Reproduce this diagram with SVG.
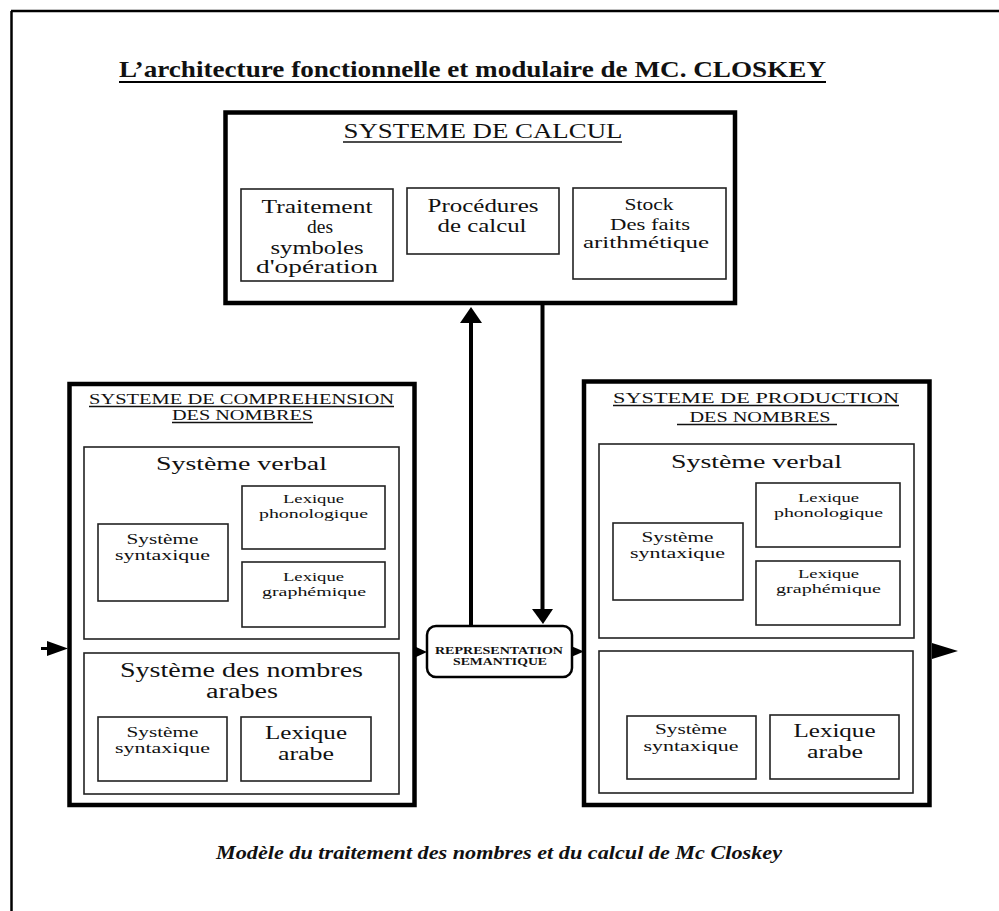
<svg xmlns="http://www.w3.org/2000/svg" width="999" height="911" viewBox="0 0 999 911">
<style>
  text { font-family: "Liberation Serif", "Times New Roman", serif; fill: #111; text-anchor: middle; }
  .big { fill: #fff; stroke: #000; stroke-width: 4.5; }
  .box { fill: none; stroke: #222; stroke-width: 1.6; }
  .ul { stroke: #111; stroke-width: 1.4; }
  .conn { stroke: #000; stroke-width: 4; fill: none; }
  .head { fill: #000; }
  .t20 { font-size: 20px; }
  .t18 { font-size: 18px; }
  .t16 { font-size: 16px; }
  .t15 { font-size: 15px; }
  .t13 { font-size: 13px; }
</style>
<rect x="0" y="0" width="999" height="911" fill="#fff"/>
<g id="frame">
  <line x1="11" y1="11" x2="999" y2="11" stroke="#000" stroke-width="2.5"/>
  <line x1="11.5" y1="11" x2="11.5" y2="911" stroke="#000" stroke-width="2.5"/>
</g>
<g id="title">
  <text x="472.5" y="77" font-size="23" font-weight="bold" textLength="707" lengthAdjust="spacingAndGlyphs">L’architecture fonctionnelle et modulaire de MC. CLOSKEY</text>
  <line x1="119" y1="82" x2="826" y2="82" stroke="#000" stroke-width="2"/>
</g>

<g id="connectors">
  <line class="conn" x1="471" y1="625" x2="471" y2="320"/>
  <polygon class="head" points="471,307 482,323 460,323"/>
  <line class="conn" x1="542.5" y1="305" x2="542.5" y2="612"/>
  <polygon class="head" points="532,609 553,609 543,624"/>
  <line x1="41" y1="648.5" x2="50" y2="648.5" stroke="#000" stroke-width="3"/>
  <polygon class="head" points="47,641 68,648.5 47,656"/>
  <polygon class="head" points="415,646.5 427,652 415,657.5"/>
  <polygon class="head" points="571,646 584,651.5 571,657"/>
  <polygon class="head" points="932,643 958,651 932,659"/>
</g>

<g id="calcul">
  <rect class="big" x="225.5" y="112.5" width="509.5" height="190.5"/>
  <text class="t20" x="483" y="138" textLength="279" lengthAdjust="spacingAndGlyphs">SYSTEME DE CALCUL</text>
  <line class="ul" x1="343" y1="142" x2="622" y2="142"/>
  <g id="traitement">
    <rect class="box" x="241" y="189" width="152" height="92"/>
    <text class="t18" x="317" y="213" textLength="111" lengthAdjust="spacingAndGlyphs">Traitement</text>
    <text class="t18" x="320" y="233" textLength="26" lengthAdjust="spacingAndGlyphs">des</text>
    <text class="t18" x="317" y="254" textLength="93" lengthAdjust="spacingAndGlyphs">symboles</text>
    <text class="t18" x="317" y="273" textLength="122" lengthAdjust="spacingAndGlyphs">d'opération</text>
  </g>
  <g id="procedures">
    <rect class="box" x="407" y="188" width="152" height="66"/>
    <text class="t18" x="483" y="212" textLength="111" lengthAdjust="spacingAndGlyphs">Procédures</text>
    <text class="t18" x="482" y="232" textLength="89" lengthAdjust="spacingAndGlyphs">de calcul</text>
  </g>
  <g id="stock">
    <rect class="box" x="573" y="188" width="153" height="91"/>
    <text class="t16" x="649" y="210" textLength="49" lengthAdjust="spacingAndGlyphs">Stock</text>
    <text class="t16" x="650" y="230" textLength="80" lengthAdjust="spacingAndGlyphs">Des faits</text>
    <text class="t16" x="646" y="248" textLength="126" lengthAdjust="spacingAndGlyphs">arithmétique</text>
  </g>
</g>

<g id="comprehension">
  <rect class="big" x="69.5" y="384" width="345" height="421"/>
  <text class="t15" x="241.5" y="404" textLength="305" lengthAdjust="spacingAndGlyphs">SYSTEME DE COMPREHENSION</text>
  <line class="ul" x1="89" y1="406.5" x2="394" y2="406.5"/>
  <text class="t15" x="242.5" y="420" textLength="141" lengthAdjust="spacingAndGlyphs">DES NOMBRES</text>
  <line class="ul" x1="172" y1="422.5" x2="313" y2="422.5"/>
  <g id="comp-verbal">
    <rect class="box" x="84" y="447" width="315" height="192"/>
    <text class="t18" x="241.5" y="470" textLength="171" lengthAdjust="spacingAndGlyphs">Système verbal</text>
    <rect class="box" x="242" y="486" width="143" height="63"/>
    <text class="t13" x="313.5" y="503" textLength="61" lengthAdjust="spacingAndGlyphs">Lexique</text>
    <text class="t13" x="313.5" y="518" textLength="109" lengthAdjust="spacingAndGlyphs">phonologique</text>
    <rect class="box" x="242" y="562" width="143" height="65"/>
    <text class="t13" x="313.5" y="581" textLength="61" lengthAdjust="spacingAndGlyphs">Lexique</text>
    <text class="t13" x="314" y="596" textLength="104" lengthAdjust="spacingAndGlyphs">graphémique</text>
    <rect class="box" x="98" y="524" width="130" height="77"/>
    <text class="t15" x="162.5" y="544" textLength="72" lengthAdjust="spacingAndGlyphs">Système</text>
    <text class="t15" x="162.5" y="560" textLength="95" lengthAdjust="spacingAndGlyphs">syntaxique</text>
  </g>
  <g id="comp-arabe">
    <rect class="box" x="84" y="653" width="315" height="141"/>
    <text class="t20" x="241.5" y="677" textLength="243" lengthAdjust="spacingAndGlyphs">Système des nombres</text>
    <text class="t20" x="242" y="698" textLength="72" lengthAdjust="spacingAndGlyphs">arabes</text>
    <rect class="box" x="98" y="717" width="129" height="64"/>
    <text class="t15" x="162.5" y="737" textLength="72" lengthAdjust="spacingAndGlyphs">Système</text>
    <text class="t15" x="162.5" y="753" textLength="95" lengthAdjust="spacingAndGlyphs">syntaxique</text>
    <rect class="box" x="241" y="717" width="130" height="64"/>
    <text class="t18" x="306" y="739" textLength="82" lengthAdjust="spacingAndGlyphs">Lexique</text>
    <text class="t18" x="306" y="760" textLength="56" lengthAdjust="spacingAndGlyphs">arabe</text>
  </g>
</g>

<g id="representation">
  <rect x="427" y="626" width="145" height="51" rx="9" ry="9" fill="#fff" stroke="#000" stroke-width="2.5"/>
  <text x="499" y="654" font-size="11" font-weight="bold" textLength="128" lengthAdjust="spacingAndGlyphs">REPRESENTATION</text>
  <text x="500" y="665" font-size="11" font-weight="bold" textLength="94" lengthAdjust="spacingAndGlyphs">SEMANTIQUE</text>
</g>

<g id="production">
  <rect class="big" x="584" y="381.5" width="345.5" height="423.5"/>
  <text class="t15" x="756" y="403" textLength="286" lengthAdjust="spacingAndGlyphs">SYSTEME DE PRODUCTION</text>
  <line class="ul" x1="613" y1="405.5" x2="899" y2="405.5"/>
  <text class="t15" x="760" y="422" textLength="141" lengthAdjust="spacingAndGlyphs">DES NOMBRES</text>
  <line class="ul" x1="677" y1="424.5" x2="837" y2="424.5"/>
  <g id="prod-verbal">
    <rect class="box" x="599" y="444" width="315" height="194"/>
    <text class="t18" x="756.5" y="468" textLength="171" lengthAdjust="spacingAndGlyphs">Système verbal</text>
    <rect class="box" x="756" y="483" width="144" height="64"/>
    <text class="t13" x="828.5" y="502" textLength="61" lengthAdjust="spacingAndGlyphs">Lexique</text>
    <text class="t13" x="828.5" y="517" textLength="109" lengthAdjust="spacingAndGlyphs">phonologique</text>
    <rect class="box" x="756" y="561" width="144" height="64"/>
    <text class="t13" x="828.5" y="578" textLength="61" lengthAdjust="spacingAndGlyphs">Lexique</text>
    <text class="t13" x="828.5" y="593" textLength="105" lengthAdjust="spacingAndGlyphs">graphémique</text>
    <rect class="box" x="613" y="523" width="130" height="77"/>
    <text class="t15" x="677.5" y="542" textLength="72" lengthAdjust="spacingAndGlyphs">Système</text>
    <text class="t15" x="677.5" y="558" textLength="95" lengthAdjust="spacingAndGlyphs">syntaxique</text>
  </g>
  <g id="prod-arabe">
    <rect class="box" x="599" y="651" width="314" height="142"/>
    <rect class="box" x="627" y="716" width="129" height="63"/>
    <text class="t15" x="691" y="734" textLength="72" lengthAdjust="spacingAndGlyphs">Système</text>
    <text class="t15" x="691" y="751" textLength="95" lengthAdjust="spacingAndGlyphs">syntaxique</text>
    <rect class="box" x="770" y="715" width="129" height="64"/>
    <text class="t18" x="834.5" y="737" textLength="82" lengthAdjust="spacingAndGlyphs">Lexique</text>
    <text class="t18" x="835" y="758" textLength="56" lengthAdjust="spacingAndGlyphs">arabe</text>
  </g>
</g>

<g id="caption">
  <text x="499" y="859" font-size="18" font-weight="bold" font-style="italic" textLength="566" lengthAdjust="spacingAndGlyphs">Modèle du traitement des nombres et du calcul de Mc Closkey</text>
</g>
</svg>
